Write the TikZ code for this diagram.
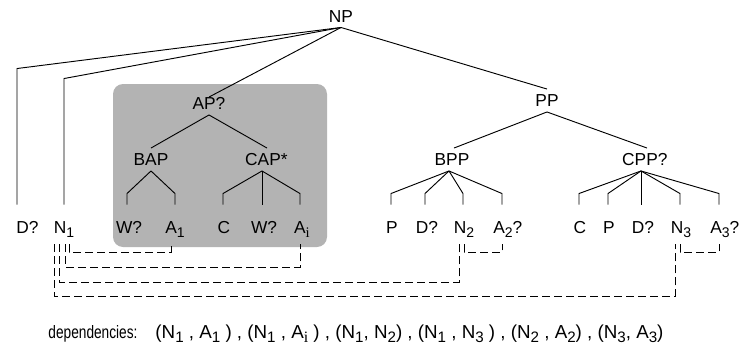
\documentclass[tikz,border=0pt]{standalone}
\usepackage{fontspec}
\setmainfont{Liberation Sans}
\newfontfamily\serifi{Liberation Serif}
\usetikzlibrary{calc}
\definecolor{boxgrey}{RGB}{179,179,179}
% lowered, smaller indices
\newcommand\lsub[1]{\raisebox{-3pt}{\fontsize{10.5pt}{10.5pt}\selectfont #1}}
\newcommand\isub{\raisebox{-3pt}{\fontsize{11pt}{11pt}\serifi i}}
\begin{document}
\begin{tikzpicture}[x=0.75pt,y=-0.75pt,line width=0.7pt,
  font=\fontsize{13pt}{15.6pt}\selectfont,
  inner/.style={inner sep=3.6pt,text height=9.3pt,text depth=0pt},
  leaf/.style={anchor=base,inner xsep=0pt,inner ysep=3pt,text height=18pt,text depth=5.25pt},
  dep/.style={dash pattern=on 6pt off 3pt,line width=0.6pt},
  greybox/.style={fill=boxgrey,rounded corners=7.5pt}]
\useasboundingbox (0,0) rectangle (744,347);

% shaded adjective-phrase region
\fill[greybox] (113,84) rectangle (327,247);

% phrase nodes
\node[inner] (NP)  at (341,16)    {NP};
\node[inner] (AP)  at (209,103.5) {AP?};
\node[inner] (PP)  at (547,100.5) {PP};
\node[inner] (BAP) at (151,159.5) {BAP};
\node[inner] (CAP) at (263,159.5) {CAP\rlap{*}};
\node[inner] (BPP) at (452,159.5) {BPP};
\node[inner] (CPP) at (640,159.5) {CPP\rlap{?}};

% word-level nodes
\node[leaf] (DL) at (27.5,233) {D?};
\node[leaf] (N1) at (64,233)   {N\lsub{1}};
\node[leaf] (W1) at (129,233)  {W?};
\node[leaf] (A1) at (175,233)  {A\lsub{1}};
\node[leaf] (C1) at (224,233)  {C};
\node[leaf] (W2) at (264,233)  {W?};
\node[leaf] (Ai) at (302,233)  {A\isub};
\node[leaf] (P1) at (392,233)  {P};
\node[leaf] (D1) at (427,233)  {D?};
\node[leaf] (N2) at (464,233)  {N\lsub{2}};
\node[leaf] (A2) at (503,233)  {A\lsub{2}\rlap{?}};
\node[leaf] (C2) at (580,233)  {C};
\node[leaf] (P2) at (609,233)  {P};
\node[leaf] (D2) at (643,233)  {D?};
\node[leaf] (N3) at (681,233)  {N\lsub{3}};
\node[leaf] (A3) at (720,233)  {A\lsub{3}\rlap{?}};

% tree edges
\draw (NP.south) -- ($(DL.north)+(-10.5,-136)$) -- ($(DL.north)+(-10.5,0)$);
\draw (NP.south) -- ($(N1.north)+(0,-126)$) -- (N1.north);
\draw (NP.south) -- ($(AP.north)+(0,5)$);
\draw (NP.south) -- (PP.north);
\draw (AP.south) -- (BAP.north);
\draw (AP.south) -- ($(CAP.north)+(4,0)$);
\draw (PP.south) -- ($(BPP.north)+(2,0)$);
\draw (PP.south) -- ($(CPP.north)+(7,0)$);

\draw (BAP.south) -- ($(W1.north)+(-2,-11)$) -- ($(W1.north)+(-2,0)$);
\draw (BAP.south) -- ($(A1.north)+(0,-11)$) -- (A1.north);

\draw ($(CAP.south)+(-1,0)$) -- ($(C1.north)+(-1,-11)$) -- ($(C1.north)+(-1,0)$);
\draw ($(CAP.south)+(-1,0)$) -- ($(W2.north)+(-2,0)$);
\draw ($(CAP.south)+(-1,0)$) -- ($(Ai.north)+(-2,-11)$) -- ($(Ai.north)+(-2,0)$);

\draw ($(BPP.south)+(-3,0)$) -- ($(P1.north)+(-1,-11)$) -- ($(P1.north)+(-1,0)$);
\draw ($(BPP.south)+(-3,0)$) -- ($(D1.north)+(-2,-11)$) -- ($(D1.north)+(-2,0)$);
\draw ($(BPP.south)+(-3,0)$) -- ($(N2.north)+(-1,-11)$) -- ($(N2.north)+(-1,0)$);
\draw ($(BPP.south)+(-3,0)$) -- ($(A2.north)+(-1,-11)$) -- ($(A2.north)+(-1,0)$);

\draw ($(CPP.south)+(1,0)$) -- ($(C2.north)+(-1,-11)$) -- ($(C2.north)+(-1,0)$);
\draw ($(CPP.south)+(1,0)$) -- ($(P2.north)+(-1,-11)$) -- ($(P2.north)+(-1,0)$);
\draw ($(CPP.south)+(1,0)$) -- ($(D2.north)+(-2,0)$);
\draw ($(CPP.south)+(1,0)$) -- ($(N3.north)+(-1,-11)$) -- ($(N3.north)+(-1,0)$);
\draw ($(CPP.south)+(1,0)$) -- ($(A3.north)+(-1,-11)$) -- ($(A3.north)+(-1,0)$);

% dependency links
\draw[dep] ($(N1.south)+(5,0)$)   |- ($(A1.south)+(-4,8)$) -- ($(A1.south)+(-4,0)$);
\draw[dep] ($(N1.south)+(1,0)$)   |- ($(Ai.south)+(-2,23)$) -- ($(Ai.south)+(-2,0)$);
\draw[dep] ($(N1.south)+(-5,0)$)  |- ($(N2.south)+(-5,38)$) -- ($(N2.south)+(-5,0)$);
\draw[dep] ($(N1.south)+(-10,0)$) |- ($(N3.south)+(-6,52)$) -- ($(N3.south)+(-6,0)$);
\draw[dep] (N2.south)             |- ($(A2.south)+(-1,8)$) -- ($(A2.south)+(-1,0)$);
\draw[dep] ($(N3.south)+(-1,0)$)  |- ($(A3.south)+(-1,8)$) -- ($(A3.south)+(-1,0)$);

% list of dependencies
\node[anchor=base west,inner sep=0pt] (deplabel) at (48,338)
  {\resizebox{66.75pt}{9.75pt}{dependencies:}};
\node[anchor=base west,inner sep=0pt] (deplist) at (155,338)
  {\resizebox{381pt}{!}{(N\lsub{1} , A\lsub{1} ) , (N\lsub{1} , A\isub\ ) , (N\lsub{1}, N\lsub{2}) , (N\lsub{1} , N\lsub{3} ) , (N\lsub{2} , A\lsub{2}) , (N\lsub{3}, A\lsub{3})}};
\end{tikzpicture}
\end{document}
